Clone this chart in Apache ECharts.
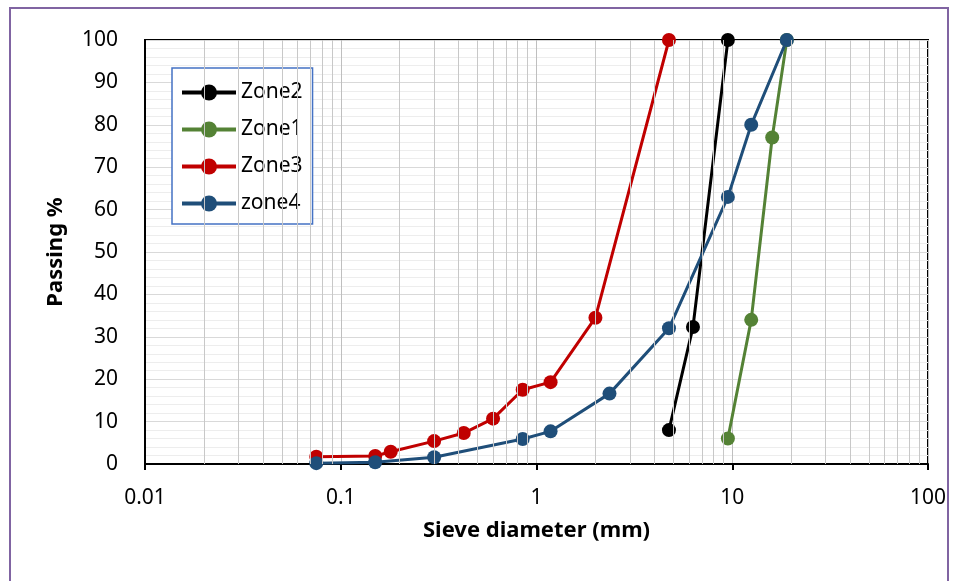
<!DOCTYPE html>
<html>
<head>
<meta charset="utf-8">
<script src="https://cdn.jsdelivr.net/npm/echarts@6/dist/echarts.min.js"></script>
<style>
  html, body { margin: 0; padding: 0; background: #fff; }
  #chart { width: 957px; height: 581px; }
</style>
</head>
<body>
<div id="chart"></div>
<script>
// sieve sizes (mm) and passing % per zone
const zone2X = [4.75, 6.3, 9.5];
const zone2Y = [8, 32.3, 100];
const zone1X = [9.5, 12.5, 16, 19];
const zone1Y = [6, 34, 77, 100];
const zone3X = [0.075, 0.15, 0.18, 0.3, 0.425, 0.6, 0.85, 1.18, 2, 4.75];
const zone3Y = [1.7, 1.9, 2.9, 5.4, 7.3, 10.7, 17.5, 19.3, 34.5, 100];
const zone4X = [0.075, 0.15, 0.3, 0.85, 1.18, 2.36, 4.75, 9.5, 12.5, 19];
const zone4Y = [0.2, 0.4, 1.6, 5.9, 7.7, 16.6, 32, 63, 80, 100];

const seriesNames = ["Zone2", "Zone1", "Zone3", "zone4"];
const seriesColors = ["#000000", "#548235", "#C00000", "#1F4E79"];

// minor log grid lines 2..9 in each decade
const decades = [0.01, 0.1, 1, 10];
const minorX = [];
decades.forEach(d => {
    for (let k = 2; k <= 9; k++) minorX.push(+(d * k).toPrecision(3));
});

const font = "'Noto Sans', 'DejaVu Sans', sans-serif";
const pairs = (xs, ys) => xs.map((x, i) => [x, ys[i]]);
const allData = [pairs(zone2X, zone2Y), pairs(zone1X, zone1Y), pairs(zone3X, zone3Y), pairs(zone4X, zone4Y)];

const chart = echarts.init(document.getElementById("chart"), null, {renderer: "canvas"});

const dataSeries = seriesNames.map((name, i) => ({
    name: name,
    type: "line",
    data: allData[i],
    symbol: "circle",
    symbolSize: 14,
    z: 3,
    lineStyle: {color: seriesColors[i], width: 3},
    itemStyle: {color: seriesColors[i]}
}));

const option = {
    animation: false,
    backgroundColor: "#fff",
    textStyle: {fontFamily: font},
    graphic: [{
        type: "rect",
        shape: {x: 10, y: 8, width: 938, height: 600},
        style: {fill: "none", stroke: "#8064A2", lineWidth: 2},
        silent: true
    }],
    grid: {
        left: 145, right: 29, top: 40, bottom: 117,
        show: true, borderColor: "#000", borderWidth: 2, backgroundColor: "#fff"
    },
    legend: {
        data: seriesNames,
        orient: "vertical",
        left: 172, top: 68,
        itemWidth: 54, itemHeight: 20, itemGap: 16,
        padding: [14, 10, 10, 8],
        borderColor: "#4472C4", borderWidth: 1.5,
        backgroundColor: "#fff",
        lineStyle: {width: 4},
        textStyle: {fontSize: 21, color: "#000", fontFamily: font, lineHeight: 20}
    },
    xAxis: {
        type: "log",
        logBase: 10,
        min: 0.01, max: 100,
        name: "Sieve diameter (mm)",
        nameLocation: "middle",
        nameGap: 56,
        nameTextStyle: {fontSize: 22, fontWeight: "bold", color: "#000"},
        axisLine: {show: true, lineStyle: {color: "#000", width: 2}},
        axisTick: {show: true, inside: false, length: 6, lineStyle: {color: "#000", width: 2}},
        axisLabel: {fontSize: 21, color: "#000", margin: 24,
            formatter: v => String(+v.toPrecision(3))},
        splitLine: {show: true, lineStyle: {color: "#BFBFBF", width: 1}}
    },
    yAxis: {
        type: "value",
        min: 0, max: 100, interval: 10,
        name: "Passing %",
        nameLocation: "middle",
        nameGap: 78,
        nameTextStyle: {fontSize: 22, fontWeight: "bold", color: "#000"},
        axisLine: {show: true, lineStyle: {color: "#000", width: 2}},
        axisTick: {show: false},
        axisLabel: {fontSize: 21, color: "#000", margin: 27},
        splitLine: {show: true, lineStyle: {color: "#D9D9D9", width: 1}},
        minorTick: {show: false, splitNumber: 5},
        minorSplitLine: {show: true, lineStyle: {color: "#EDEDED", width: 1}}
    },
    series: [{
        name: "minorGrid",
        type: "line",
        data: [],
        z: 1,
        silent: true,
        markLine: {
            silent: true,
            symbol: "none",
            animation: false,
            label: {show: false},
            lineStyle: {color: "#C8C8C8", width: 1, type: "solid"},
            data: minorX.map(v => ({xAxis: v}))
        }
    }].concat(dataSeries)
};

chart.setOption(option);
</script>
</body>
</html>
